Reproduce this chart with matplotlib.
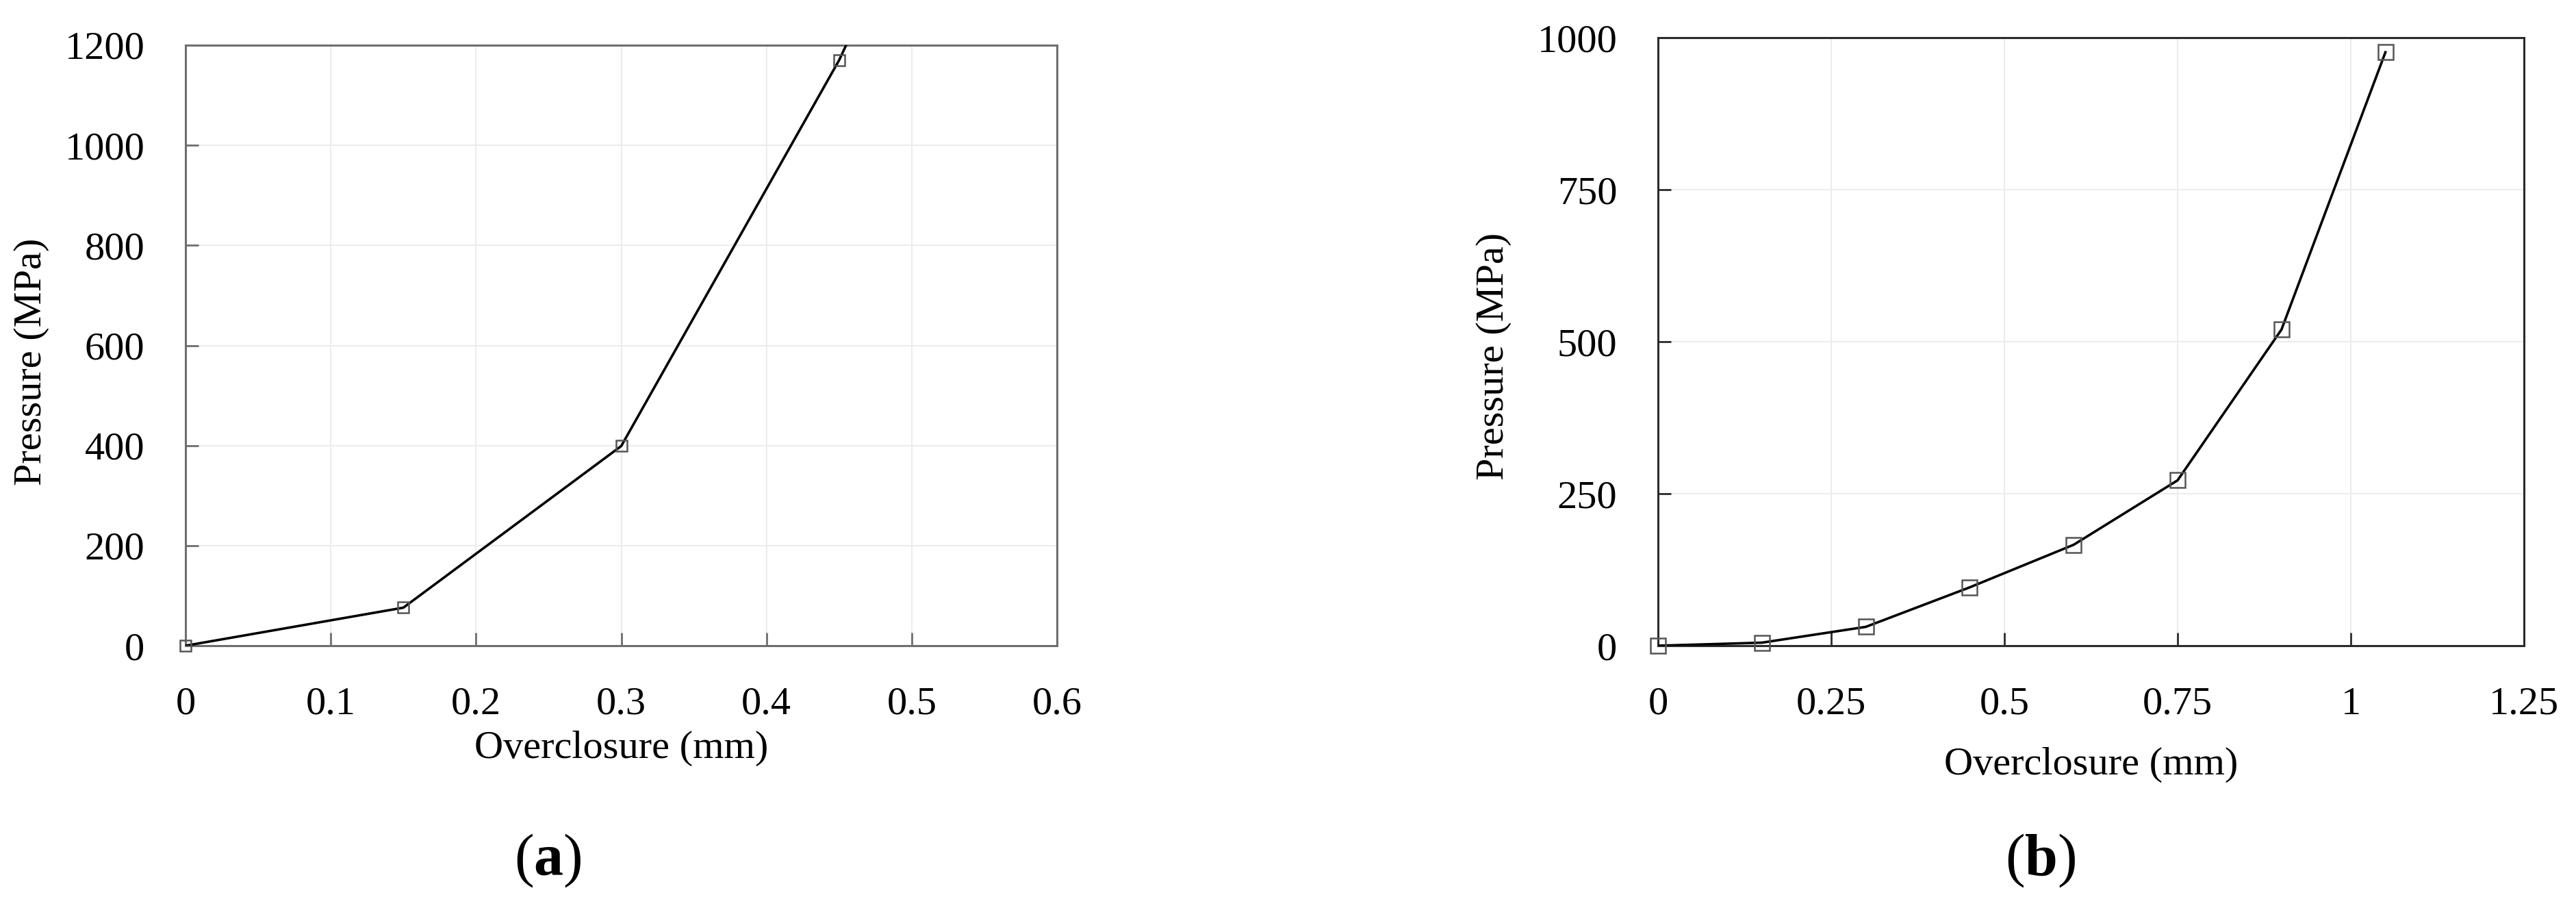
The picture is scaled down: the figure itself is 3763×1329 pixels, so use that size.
import matplotlib
matplotlib.use("Agg")
import matplotlib.pyplot as plt

plt.rcParams['font.family'] = ['Liberation Serif', 'DejaVu Serif']
plt.rcParams['mathtext.fontset'] = 'custom'
plt.rcParams['mathtext.rm'] = 'Liberation Serif'
plt.rcParams['mathtext.bf'] = 'Liberation Serif:bold'

# panel (a)
overclosure_a = [0, 0.15, 0.3, 0.45, 0.6]
pressure_a = [0, 76, 399, 1170, 2100]
xticks_a = [0, 0.1, 0.2, 0.3, 0.4, 0.5, 0.6]
yticks_a = [0, 200, 400, 600, 800, 1000, 1200]

# panel (b)
overclosure_b = [0, 0.15, 0.3, 0.45, 0.6, 0.75, 0.9, 1.05]
pressure_b = [0, 5, 31, 96, 166, 272, 520, 976]
xticks_b = [0, 0.25, 0.5, 0.75, 1, 1.25]
yticks_b = [0, 250, 500, 750, 1000]

W, H = 3763, 1329
fig = plt.figure(figsize=(W / 100, H / 100), dpi=100)


def box(x0, x1, top, bottom):
    return [x0 / W, 1 - bottom / H, (x1 - x0) / W, (bottom - top) / H]


def style_panel(ax, xs, ys, xt, yt, spine_col, msize, ylab_x, xlab_y, ylab_y):
    ax.plot(xs, ys, color='black', lw=2.6, zorder=3)
    # markers only for the points inside the plot range, not clipped at the frame
    inside = [(x, y) for x, y in zip(xs, ys) if y <= yt[-1]]
    ax.plot([p[0] for p in inside], [p[1] for p in inside], ls='none',
            marker='s', markersize=msize, markerfacecolor='none',
            markeredgecolor='#555555', markeredgewidth=1.8, zorder=4,
            clip_on=False)
    ax.set_xlim(xt[0], xt[-1])
    ax.set_ylim(yt[0], yt[-1])
    ax.set_xticks(xt)
    ax.set_yticks(yt)
    ax.set_xticklabels([f"{v:g}" for v in xt])
    ax.set_yticklabels([f"{v:g}" for v in yt])
    ax.grid(True, color='#ececec', lw=1.5, zorder=0)
    ax.tick_params(direction='in', length=14, width=2, color=spine_col,
                   labelsize=42, pad=43)
    for s in ax.spines.values():
        s.set_color(spine_col)
        s.set_linewidth(2.2)
    ax.set_xlabel("Overclosure (mm)", fontsize=42)
    ax.set_ylabel("Pressure (MPa)", fontsize=42)
    ax.xaxis.set_label_coords(0.5, xlab_y)
    ax.xaxis.label.set_va('center')
    ax.yaxis.set_label_coords(ylab_x, ylab_y)
    ax.yaxis.label.set_va('center')


ax1 = fig.add_axes(box(271, 1544, 66, 943))
style_panel(ax1, overclosure_a, pressure_a, xticks_a, yticks_a,
            '#6e6e6e', 12, -0.177, -0.171, 0.473)

ax2 = fig.add_axes(box(2422, 3687, 55, 943))
style_panel(ax2, overclosure_b, pressure_b, xticks_b, yticks_b,
            '#2b2b2b', 15.5, -0.19, -0.196, 0.476)

fig.text(800 / W, 1 - 1257 / H, r"($\mathbf{a}$)", fontsize=62,
         ha='center', va='center')
fig.text(2981 / W, 1 - 1257 / H, r"($\mathbf{b}$)", fontsize=62,
         ha='center', va='center')

fig.savefig("out.png", dpi=100)
